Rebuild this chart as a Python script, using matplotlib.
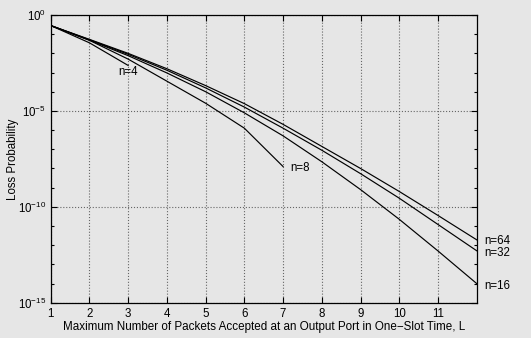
#Loss probability vs number of packets accepted per slot, for several switch sizes n
import numpy as np
import matplotlib.pyplot as plt
from matplotlib.ticker import FixedLocator, NullFormatter

plt.rcParams['font.family'] = ['Liberation Sans', 'DejaVu Sans']
plt.rcParams['mathtext.fontset'] = 'custom'
plt.rcParams['mathtext.rm'] = 'Liberation Sans'
plt.rcParams['mathtext.it'] = 'Liberation Sans'

#values (log10 of loss probability)
L_4 = [1, 2, 3]
logP_4 = [-0.55, -1.45, -2.63]
L_8 = [1, 2, 3, 4, 5, 6, 7]
logP_8 = [-0.55, -1.32, -2.30, -3.45, -4.60, -5.90, -7.90]
L_big = [1, 2, 3, 4, 5, 6, 7, 8, 9, 10, 11, 12]
logP_16 = [-0.55, -1.31, -2.12, -3.02, -4.00, -5.10, -6.30, -7.65, -9.10, -10.65, -12.30, -14.00]
logP_32 = [-0.55, -1.29, -2.05, -2.88, -3.80, -4.80, -5.90, -7.05, -8.27, -9.55, -10.92, -12.29]
logP_64 = [-0.55, -1.27, -2.00, -2.80, -3.68, -4.62, -5.70, -6.85, -8.00, -9.20, -10.45, -11.72]

bg = '#e6e6e6'
fig = plt.figure(figsize=(5.31, 3.38), dpi=100, facecolor=bg)
ax = fig.add_axes([0.0955, 0.1044, 0.8022, 0.8512], facecolor=bg)

for xs, ys in [(L_4, logP_4), (L_8, logP_8), (L_big, logP_16), (L_big, logP_32), (L_big, logP_64)]:
    ax.semilogy(xs, 10.0**np.array(ys), color='black', linewidth=0.85)

ax.set_xlim(1, 12)
ax.set_ylim(1e-15, 1e0)
ax.set_xticks(range(1, 12))
ax.set_yticks([1e0, 1e-5, 1e-10, 1e-15])
ax.set_yticklabels([r'$10^{0}$', r'$10^{-5}$', r'$10^{-10}$', r'$10^{-15}$'])
ax.yaxis.set_minor_locator(FixedLocator([10.0**-k for k in range(16)]))
ax.yaxis.set_minor_formatter(NullFormatter())
ax.tick_params(which='both', direction='in', top=True, right=True, labelsize=8.3, width=0.8)
ax.tick_params(which='major', length=4)
ax.tick_params(which='minor', length=2.5)
ax.grid(True, which='major', linestyle=':', color='#666666', linewidth=0.8)
for s in ax.spines.values():
    s.set_linewidth(0.9)

#curve labels
ax.text(2.74, 10**-2.95, 'n=4', fontsize=8.3, va='center')
ax.text(7.18, 10**-7.97, 'n=8', fontsize=8.3, va='center')
ax.text(12.2, 10**-11.76, 'n=64', fontsize=8.3, va='center', clip_on=False)
ax.text(12.2, 10**-12.41, 'n=32', fontsize=8.3, va='center', clip_on=False)
ax.text(12.2, 10**-14.11, 'n=16', fontsize=8.3, va='center', clip_on=False)

ax.set_xlabel('Maximum Number of Packets Accepted at an Output Port in One\u2212Slot Time, L', fontsize=8.4, labelpad=1)
ax.set_ylabel('Loss Probability', fontsize=8.3, labelpad=-1)

plt.savefig('out.png', dpi=100, facecolor=bg)
